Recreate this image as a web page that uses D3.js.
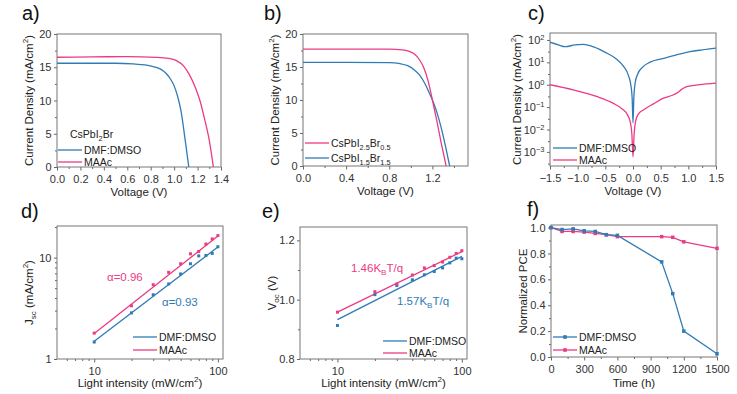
<!DOCTYPE html>
<html><head><meta charset="utf-8">
<script src="https://cdn.jsdelivr.net/npm/d3@7"></script>
<style>
body{margin:0;background:#fff}
text{font-family:"Liberation Sans",Arial,sans-serif}
</style>
</head><body>
<svg id="chart" width="737" height="394"></svg>
<script>
// ---------- DATA ----------
// a) J-V curves, CsPbI2Br
const aV_dmf = [0, 0.3, 0.5, 0.65, 0.75, 0.82, 0.88, 0.93, 0.97, 1.0, 1.03, 1.06, 1.09, 1.125];
const aJ_dmf = [15.6, 15.6, 15.6, 15.5, 15.35, 15.1, 14.75, 14.1, 13.2, 12.2, 10.6, 8.3, 4.6, 0];
const aV_maac = [0, 0.3, 0.6, 0.85, 0.95, 1.02, 1.08, 1.13, 1.18, 1.22, 1.26, 1.3, 1.335];
const aJ_maac = [16.5, 16.55, 16.6, 16.5, 16.35, 16.0, 15.2, 13.9, 12.0, 10.0, 7.2, 4.0, 0];
// b) J-V curves
const bV_i25 = [0, 0.4, 0.8, 0.92, 0.98, 1.03, 1.08, 1.12, 1.16, 1.2, 1.24, 1.28, 1.327];
const bJ_i25 = [17.7, 17.7, 17.7, 17.6, 17.4, 17.0, 16.1, 14.9, 12.9, 10.0, 6.9, 3.6, 0];
const bV_i15 = [0, 0.4, 0.8, 0.9, 0.97, 1.03, 1.08, 1.13, 1.17, 1.2, 1.24, 1.28, 1.32, 1.36];
const bJ_i15 = [15.7, 15.7, 15.65, 15.5, 15.2, 14.6, 13.8, 12.5, 11.1, 10.0, 8.2, 5.9, 3.1, 0];
// c) dark J-V (log)
const cV_dmf = [-1.5, -1.35, -1.22, -1.05, -0.9, -0.7, -0.5, -0.3, -0.17, -0.08, -0.04, -0.015, 0.0, 0.015, 0.04, 0.08, 0.18, 0.3, 0.55, 0.8, 1.03, 1.25, 1.5];
const cJ_dmf = [79, 60, 50, 60, 63, 48, 28, 14, 6.6, 2.5, 1.0, 0.25, 0.02, 0.25, 1.26, 2.8, 6.3, 10, 15, 22, 30, 36, 43];
const cV_maac = [-1.5, -1.08, -0.66, -0.36, -0.2, -0.1, -0.05, -0.02, 0.0, 0.02, 0.05, 0.1, 0.2, 0.37, 0.55, 0.7, 0.79, 0.88, 0.97, 1.2, 1.5];
const cJ_maac = [1.0, 0.59, 0.30, 0.15, 0.085, 0.045, 0.022, 0.006, 0.0006, 0.006, 0.025, 0.05, 0.078, 0.14, 0.25, 0.33, 0.42, 0.62, 0.83, 1.0, 1.17];
// d) Jsc vs light intensity
const intensity = [10, 20, 30, 40, 50, 60, 70, 80, 90, 100];
const dJ_dmf = [1.47, 2.85, 4.3, 5.5, 6.9, 8.7, 10.4, 10.5, 11.0, 12.8];
const dJ_maac = [1.80, 3.35, 5.4, 7.16, 8.7, 10.9, 11.5, 13.6, 15.3, 16.5];
const dFitI = [10, 100];
const dFit_dmf = [1.5, 12.7];
const dFit_maac = [1.78, 16.3];
// e) Voc vs light intensity
const eV_dmf = [0.913, 1.017, 1.048, 1.067, 1.084, 1.095, 1.107, 1.124, 1.140, 1.138];
const eV_maac = [0.958, 1.027, 1.053, 1.083, 1.107, 1.115, 1.127, 1.143, 1.156, 1.165];
const eFit_dmf = [0.933, 1.146];
const eFit_maac = [0.958, 1.162];
// f) stability
const fTime = [0, 100, 200, 300, 400, 500, 600, 1000, 1100, 1200, 1500];
const fPCE_dmf = [1.0, 0.985, 0.99, 0.975, 0.97, 0.945, 0.94, 0.735, 0.49, 0.20, 0.025];
const fPCE_maac = [1.0, 0.97, 0.97, 0.965, 0.955, 0.945, 0.93, 0.93, 0.925, 0.89, 0.84];

const BLUE = '#2f7bb6', PINK = '#ec3a84';
const TICK_FS = 11, TITLE_FS = 11.5, LEG_FS = 10.5;

// ---------- HELPERS ----------
const svg = d3.select('#chart');

function rich(sel, parts, fs) {
  let off = 0;
  parts.forEach(p => {
    let t = p, k = null;
    if (Array.isArray(p)) { t = p[0]; k = p[1]; }
    const target = k === 'sub' ? fs * 0.3 : k === 'sup' ? -fs * 0.4 : 0;
    const ts = sel.append('tspan').attr('dy', target - off).text(t);
    if (k) ts.attr('font-size', fs * 0.7);
    off = target;
  });
}

function styleAxis(s) {
  s.select('.domain').remove();
  s.selectAll('line').attr('stroke', '#666');
  s.selectAll('text').attr('fill', '#333').attr('font-size', TICK_FS)
    .attr('font-family', '"Liberation Sans",Arial,sans-serif');
}

function panel(o) {
  const g = svg.append('g');
  const x = (o.xlog ? d3.scaleLog() : d3.scaleLinear()).domain(o.xd).range([o.x0, o.x1]);
  const y = (o.ylog ? d3.scaleLog() : d3.scaleLinear()).domain(o.yd).range([o.y1, o.y0]);
  if (o.xminor) g.append('g').attr('transform', `translate(0,${o.y1})`)
    .call(d3.axisBottom(x).tickValues(o.xminor).tickSize(2).tickFormat('')).call(styleAxis);
  g.append('g').attr('transform', `translate(0,${o.y1})`)
    .call(d3.axisBottom(x).tickValues(o.xticks).tickSize(3.5).tickPadding(4.5).tickFormat(o.xfmt)).call(styleAxis);
  if (o.yminor) g.append('g').attr('transform', `translate(${o.x0},0)`)
    .call(d3.axisLeft(y).tickValues(o.yminor).tickSize(2).tickFormat('')).call(styleAxis);
  const ya = g.append('g').attr('transform', `translate(${o.x0},0)`)
    .call(d3.axisLeft(y).tickValues(o.yticks).tickSize(3).tickPadding(2.5).tickFormat(o.yfmt)).call(styleAxis);
  if (o.ysup) {
    ya.selectAll('.tick text').each(function (d) {
      const t = d3.select(this); t.text('');
      t.append('tspan').text('10');
      t.append('tspan').attr('dy', -4).attr('font-size', 7.5).text(d3.format('d')(Math.round(Math.log10(d))).replace('-', '-'));
    });
  }
  g.append('rect').attr('x', o.x0).attr('y', o.y0).attr('width', o.x1 - o.x0).attr('height', o.y1 - o.y0)
    .attr('fill', 'none').attr('stroke', '#777').attr('stroke-width', 1);
  // panel letter
  g.append('text').attr('x', o.lx).attr('y', o.ly).attr('font-size', 20).attr('fill', '#111').text(o.letter);
  // x title
  const xt = g.append('text').attr('x', (o.x0 + o.x1) / 2 + (o.xtdx || 0)).attr('y', o.xty)
    .attr('text-anchor', 'middle').attr('font-size', TITLE_FS).attr('fill', '#222');
  rich(xt, o.xtitle, TITLE_FS);
  const yt = g.append('text').attr('transform', `translate(${o.ytx},${(o.y0 + o.y1) / 2}) rotate(-90)`)
    .attr('text-anchor', 'middle').attr('font-size', TITLE_FS).attr('fill', '#222');
  rich(yt, o.ytitle, TITLE_FS);
  const clip = 'clip' + o.letter[0];
  g.append('clipPath').attr('id', clip).append('rect').attr('x', o.x0).attr('y', o.y0 - 1)
    .attr('width', o.x1 - o.x0).attr('height', o.y1 - o.y0 + 2);
  const plot = g.append('g').attr('clip-path', `url(#${clip})`);
  return { g, plot, x, y };
}

function curve(p, xs, ys, color, c) {
  const pts = xs.map((v, i) => [v, ys[i]]);
  p.plot.append('path').datum(pts).attr('fill', 'none').attr('stroke', color).attr('stroke-width', 1.3)
    .attr('d', d3.line().x(d => p.x(d[0])).y(d => p.y(d[1])).curve(c || d3.curveMonotoneX));
}
function squares(p, xs, ys, color, s) {
  p.g.append('g').selectAll('rect').data(xs.map((v, i) => [v, ys[i]])).join('rect')
    .attr('x', d => p.x(d[0]) - s / 2).attr('y', d => p.y(d[1]) - s / 2)
    .attr('width', s).attr('height', s).attr('fill', color);
}
function legend(g, x, y, color, parts, marker) {
  g.append('line').attr('x1', x).attr('x2', x + 24).attr('y1', y).attr('y2', y)
    .attr('stroke', color).attr('stroke-width', 1.3);
  if (marker) g.append('rect').attr('x', x + 12 - 1.8).attr('y', y - 1.8).attr('width', 3.6).attr('height', 3.6).attr('fill', color);
  const t = g.append('text').attr('x', x + 26).attr('y', y + 4).attr('font-size', LEG_FS).attr('fill', '#222');
  rich(t, parts, LEG_FS);
}
const fmt1 = d3.format('.1f');
const range = (a, b, s) => d3.range(a, b + s / 2, s);
const logMinor = (lo, hi) => { const r = []; for (let e = lo; e < hi; e++) for (let k = 2; k <= 9; k++) r.push(k * Math.pow(10, e)); return r; };

// ---------- PANEL a ----------
const pa = panel({
  letter: 'a)', lx: 22, ly: 20, x0: 57, x1: 221, y0: 34, y1: 167,
  xd: [0, 1.4], yd: [0, 20],
  xticks: range(0, 1.4, 0.2), xminor: range(0.1, 1.3, 0.2), xfmt: fmt1,
  yticks: range(0, 20, 5), yminor: range(2.5, 17.5, 5), yfmt: d3.format('d'),
  xtitle: ['Voltage (V)'], xty: 196,
  ytitle: ['Current Density (mA/cm', ['2', 'sup'], ')'], ytx: 33
});
curve(pa, aV_dmf, aJ_dmf, BLUE);
curve(pa, aV_maac, aJ_maac, PINK);
{ const t = pa.g.append('text').attr('x', 70).attr('y', 138).attr('font-size', LEG_FS).attr('fill', '#222');
  rich(t, ['CsPbI', ['2', 'sub'], 'Br'], LEG_FS); }
legend(pa.g, 58, 150, BLUE, ['DMF:DMSO']);
legend(pa.g, 58, 162, PINK, ['MAAc']);

// ---------- PANEL b ----------
const pb = panel({
  letter: 'b)', lx: 264, ly: 20, x0: 303, x1: 468, y0: 34, y1: 166,
  xd: [0, 1.53], yd: [0, 20],
  xticks: [0, 0.4, 0.8, 1.2], xminor: [0.2, 0.6, 1.0, 1.4], xfmt: fmt1,
  yticks: range(0, 20, 5), yminor: range(2.5, 17.5, 5), yfmt: d3.format('d'),
  xtitle: ['Voltage (V)'], xty: 195,
  ytitle: ['Current Density (mA/cm', ['2', 'sup'], ')'], ytx: 279
});
curve(pb, bV_i15, bJ_i15, BLUE);
curve(pb, bV_i25, bJ_i25, PINK);
legend(pb.g, 305, 143, PINK, ['CsPbI', ['2.5', 'sub'], 'Br', ['0.5', 'sub']]);
legend(pb.g, 305, 158, BLUE, ['CsPbI', ['1.5', 'sub'], 'Br', ['1.5', 'sub']]);

// ---------- PANEL c ----------
const pc = panel({
  letter: 'c)', lx: 528, ly: 20, x0: 550, x1: 716, y0: 33, y1: 166,
  xd: [-1.5, 1.5], yd: [Math.pow(10, -3.63), Math.pow(10, 2.31)], ylog: true,
  xticks: range(-1.5, 1.5, 0.5), xminor: range(-1.25, 1.25, 0.5), xfmt: fmt1,
  yticks: [1e-3, 1e-2, 1e-1, 1, 10, 100], yminor: [3e-4, 3e-3, 3e-2, 3e-1, 3, 30], ysup: true,
  xtitle: ['Voltage (V)'], xty: 195,
  ytitle: ['Current Density (mA/cm', ['2', 'sup'], ')'], ytx: 521
});
curve(pc, cV_dmf, cJ_dmf, BLUE);
curve(pc, cV_maac, cJ_maac, PINK);
legend(pc.g, 553, 148, BLUE, ['DMF:DMSO']);
legend(pc.g, 553, 160, PINK, ['MAAc']);

// ---------- PANEL d ----------
const pd = panel({
  letter: 'd)', lx: 21, ly: 218, x0: 57, x1: 223, y0: 226, y1: 359,
  xd: [5, 110], yd: [1, 20.5], xlog: true, ylog: true,
  xticks: [10, 100], xminor: [6, 7, 8, 9, 20, 30, 40, 50, 60, 70, 80, 90], xfmt: d3.format('d'),
  yticks: [1, 10], yminor: [2, 3, 4, 5, 6, 7, 8, 9, 20], yfmt: d3.format('d'),
  xtitle: ['Light intensity (mW/cm', ['2', 'sup'], ')'], xty: 387, xtdx: 0,
  ytitle: ['J', ['sc', 'sub'], ' (mA/cm', ['2', 'sup'], ')'], ytx: 33
});
curve(pd, dFitI, dFit_dmf, BLUE, d3.curveLinear);
curve(pd, dFitI, dFit_maac, PINK, d3.curveLinear);
squares(pd, intensity, dJ_dmf, BLUE, 3);
squares(pd, intensity, dJ_maac, PINK, 3);
pd.g.append('text').attr('x', 107).attr('y', 281).attr('font-size', TITLE_FS).attr('fill', PINK).text('α=0.96');
pd.g.append('text').attr('x', 162).attr('y', 306).attr('font-size', TITLE_FS).attr('fill', BLUE).text('α=0.93');
legend(pd.g, 133, 337, BLUE, ['DMF:DMSO']);
legend(pd.g, 133, 350, PINK, ['MAAc']);

// ---------- PANEL e ----------
const pe = panel({
  letter: 'e)', lx: 262, ly: 218, x0: 300, x1: 467, y0: 227, y1: 359,
  xd: [5, 110], yd: [0.8, 1.245], xlog: true,
  xticks: [10, 100], xminor: [6, 7, 8, 9, 20, 30, 40, 50, 60, 70, 80, 90], xfmt: d3.format('d'),
  yticks: [0.8, 1.0, 1.2], yminor: [0.9, 1.1], yfmt: fmt1,
  xtitle: ['Light intensity (mW/cm', ['2', 'sup'], ')'], xty: 387,
  ytitle: ['V', ['oc', 'sub'], ' (V)'], ytx: 276
});
curve(pe, dFitI, eFit_dmf, BLUE, d3.curveLinear);
curve(pe, dFitI, eFit_maac, PINK, d3.curveLinear);
squares(pe, intensity, eV_dmf, BLUE, 3);
squares(pe, intensity, eV_maac, PINK, 3);
{ const t = pe.g.append('text').attr('x', 351).attr('y', 272).attr('font-size', TITLE_FS).attr('fill', PINK);
  rich(t, ['1.46K', ['B', 'sub'], 'T/q'], TITLE_FS);
  const t2 = pe.g.append('text').attr('x', 397).attr('y', 305).attr('font-size', TITLE_FS).attr('fill', BLUE);
  rich(t2, ['1.57K', ['B', 'sub'], 'T/q'], TITLE_FS); }
legend(pe.g, 383, 341, BLUE, ['DMF:DMSO']);
legend(pe.g, 383, 353, PINK, ['MAAc']);

// ---------- PANEL f ----------
const pf = panel({
  letter: 'f)', lx: 527, ly: 216, x0: 551, x1: 717, y0: 225, y1: 357,
  xd: [0, 1500], yd: [0, 1.02],
  xticks: range(0, 1500, 300), xminor: range(150, 1350, 300), xfmt: d3.format('d'),
  yticks: range(0, 1.0, 0.2), yminor: range(0.1, 0.9, 0.2), yfmt: fmt1,
  xtitle: ['Time (h)'], xty: 387,
  ytitle: ['Normalized PCE'], ytx: 527
});
curve(pf, fTime, fPCE_maac, PINK, d3.curveLinear);
curve(pf, fTime, fPCE_dmf, BLUE, d3.curveLinear);
squares(pf, fTime, fPCE_maac, PINK, 3.5);
squares(pf, fTime, fPCE_dmf, BLUE, 3.5);
legend(pf.g, 553, 337, BLUE, ['DMF:DMSO'], true);
legend(pf.g, 553, 350, PINK, ['MAAc'], true);
</script>
</body></html>
